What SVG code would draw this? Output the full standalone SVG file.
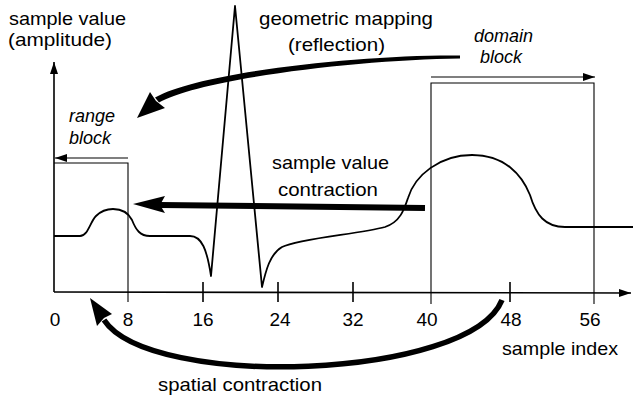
<svg xmlns="http://www.w3.org/2000/svg" width="633" height="400" viewBox="0 0 633 400">
<style>
  .t { font-family: "Liberation Sans", Arial, sans-serif; font-size: 19px; fill: #000; }
  .it { font-family: "Liberation Sans", Arial, sans-serif; font-size: 18px; font-style: italic; fill: #000; }
  .num { font-family: "Liberation Sans", Arial, sans-serif; font-size: 19px; fill: #000; text-anchor: middle; }
  .axis { stroke: #000; stroke-width: 1.6; fill: none; }
  .thin { stroke: #000; stroke-width: 1.1; fill: none; }
  .sig { stroke: #000; stroke-width: 1.8; fill: none; stroke-linejoin: round; }
  .thick { stroke: #000; fill: none; stroke-linecap: butt; }
  .head { fill: #000; stroke: none; }
</style>
<defs>
  <marker id="ah" viewBox="0 0 12 8" refX="12" refY="4" markerWidth="12" markerHeight="8" markerUnits="userSpaceOnUse" orient="auto">
    <path d="M0 0 L12 4 L0 8 Z" fill="#000"/>
  </marker>
</defs>
<rect width="633" height="400" fill="#fff"/>

<g id="axes">
  <line class="axis" x1="54" y1="292" x2="54" y2="62" marker-end="url(#ah)"/>
  <line class="axis" x1="54" y1="292" x2="631" y2="293" marker-end="url(#ah)"/>
  <line class="axis" x1="203" y1="282" x2="203" y2="302"/>
  <line class="axis" x1="278" y1="282" x2="278" y2="302"/>
  <line class="axis" x1="353" y1="282" x2="353" y2="302"/>
  <line class="axis" x1="510" y1="282" x2="510" y2="302"/>
</g>

<g id="range-block">
  <polyline class="thin" points="54,163 128,163 128,302"/>
  <line class="thin" x1="128" y1="158" x2="55" y2="158" marker-end="url(#ah)"/>
  <text class="it" x="69" y="122">range</text>
  <text class="it" x="69" y="144">block</text>
</g>

<g id="domain-block">
  <polyline class="thin" points="431,304 431,83 594,83 594,304"/>
  <line class="thin" x1="431" y1="77" x2="595" y2="77" marker-end="url(#ah)"/>
  <text class="it" x="474" y="42">domain</text>
  <text class="it" x="480" y="63">block</text>
</g>

<g id="signal">
  <path class="sig" d="M54 236 L80 236 C88 236 90 222 96 216 C102 210 108 209 113 209 C120 209 128 212 132 220 C136 230 140 236 150 236 L190 236 C202 236 207 250 211 276 L235 6 L262 287 C266 270 270 254 282 247 C300 238 360 234 385 227 C400 222 404 210 408 198 C415 175 440 155 472 155 C505 155 522 175 530 195 C536 215 545 227 565 227 L633 227"/>
</g>

<g id="connectors">
  <path class="head" d="M460 55.5 C360 54.5 200 72 155 97.5 L159 102.5 C202 78.5 360 59.5 460 58.5 Z"/>
  <polygon class="head" points="137,118 150,92 156,101 165,108"/>
  <path class="thick" stroke-width="6" d="M425 208 L160 205"/>
  <polygon class="head" points="133,204 165,196 160,205 165,213"/>
  <path class="thick" stroke-width="5.5" d="M502 300 C470 380 150 390 104 320"/>
  <polygon class="head" points="90,298 112,314 104,318 97,326"/>
</g>

<g id="labels">
  <text class="t" x="9" y="25" textLength="117" lengthAdjust="spacingAndGlyphs">sample value</text>
  <text class="t" x="8" y="46" textLength="104" lengthAdjust="spacingAndGlyphs">(amplitude)</text>
  <text class="t" x="259" y="25" textLength="174" lengthAdjust="spacingAndGlyphs">geometric mapping</text>
  <text class="t" x="288" y="51" textLength="97" lengthAdjust="spacingAndGlyphs">(reflection)</text>
  <text class="t" x="272" y="169" textLength="117" lengthAdjust="spacingAndGlyphs">sample value</text>
  <text class="t" x="278" y="196" textLength="100" lengthAdjust="spacingAndGlyphs">contraction</text>
  <text class="t" x="158" y="391" textLength="164" lengthAdjust="spacingAndGlyphs">spatial contraction</text>
  <text class="t" x="502" y="355" textLength="116" lengthAdjust="spacingAndGlyphs">sample index</text>
  <text class="num" x="55" y="326">0</text>
  <text class="num" x="128" y="326">8</text>
  <text class="num" x="203" y="326">16</text>
  <text class="num" x="280" y="326">24</text>
  <text class="num" x="353" y="326">32</text>
  <text class="num" x="427" y="326">40</text>
  <text class="num" x="511" y="326">48</text>
  <text class="num" x="590" y="326">56</text>
</g>
</svg>
